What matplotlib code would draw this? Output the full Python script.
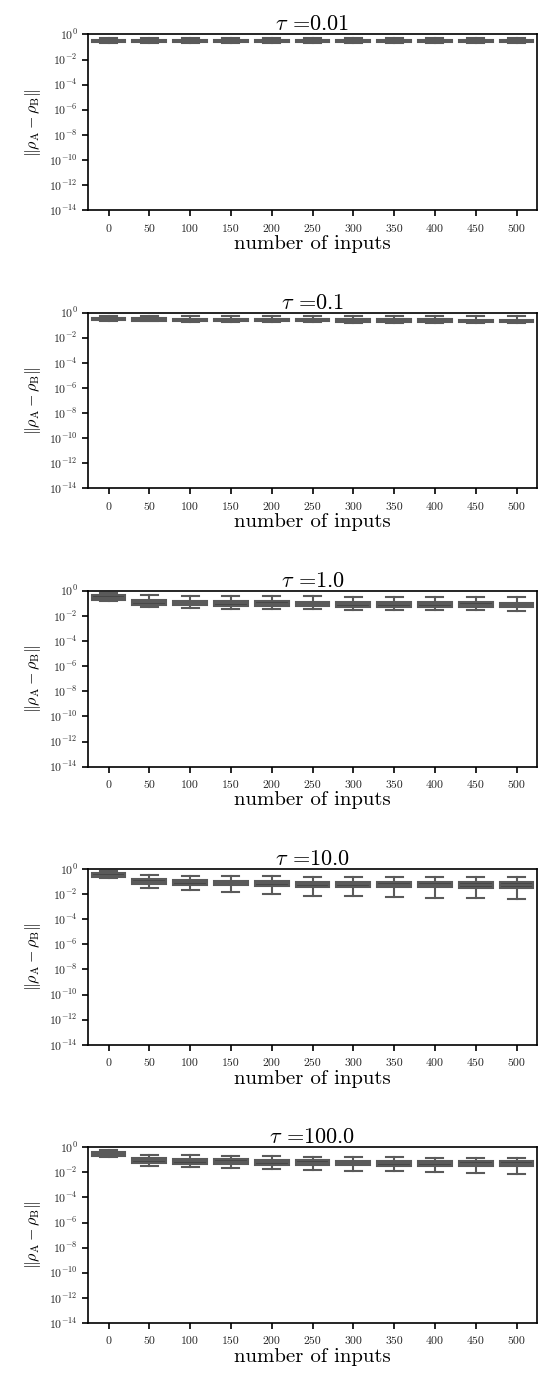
import numpy as np
import matplotlib
matplotlib.use('Agg')
import matplotlib.pyplot as plt

plt.rcParams['font.family'] = 'cmr10'
plt.rcParams['mathtext.fontset'] = 'cm'
plt.rcParams['axes.formatter.use_mathtext'] = True
plt.rcParams['axes.unicode_minus'] = False

taus = ['0.01', '0.1', '1.0', '10.0', '100.0']
inputs = [0, 50, 100, 150, 200, 250, 300, 350, 400, 450, 500]

# box statistics, one list per tau
med = [
    [0.28, 0.28, 0.28, 0.28, 0.28, 0.28, 0.28, 0.28, 0.28, 0.28, 0.28],
    [0.29, 0.28, 0.27, 0.26, 0.25, 0.25, 0.24, 0.23, 0.23, 0.22, 0.22],
    [0.29, 0.12, 0.11, 0.10, 0.095, 0.09, 0.088, 0.085, 0.083, 0.08, 0.077],
    [0.29, 0.098, 0.085, 0.078, 0.07, 0.065, 0.06, 0.057, 0.055, 0.054, 0.053],
    [0.30, 0.087, 0.075, 0.068, 0.062, 0.058, 0.055, 0.053, 0.051, 0.05, 0.048],
]
q1 = [
    [0.23, 0.23, 0.23, 0.23, 0.23, 0.23, 0.23, 0.23, 0.23, 0.23, 0.23],
    [0.24, 0.23, 0.22, 0.21, 0.20, 0.20, 0.19, 0.18, 0.18, 0.17, 0.17],
    [0.17, 0.077, 0.07, 0.065, 0.06, 0.058, 0.056, 0.054, 0.052, 0.05, 0.048],
    [0.22, 0.064, 0.055, 0.05, 0.044, 0.04, 0.037, 0.035, 0.034, 0.033, 0.033],
    [0.19, 0.056, 0.048, 0.044, 0.04, 0.038, 0.036, 0.034, 0.033, 0.032, 0.031],
]
q3 = [
    [0.33, 0.33, 0.33, 0.33, 0.33, 0.33, 0.33, 0.33, 0.33, 0.33, 0.33],
    [0.35, 0.34, 0.33, 0.32, 0.31, 0.31, 0.30, 0.29, 0.29, 0.28, 0.28],
    [0.45, 0.18, 0.165, 0.155, 0.145, 0.14, 0.135, 0.13, 0.125, 0.12, 0.115],
    [0.45, 0.15, 0.13, 0.12, 0.11, 0.10, 0.095, 0.092, 0.09, 0.089, 0.088],
    [0.40, 0.13, 0.115, 0.105, 0.096, 0.09, 0.085, 0.082, 0.079, 0.077, 0.075],
]
lo = [
    [0.20, 0.20, 0.20, 0.20, 0.20, 0.20, 0.20, 0.20, 0.20, 0.20, 0.20],
    [0.21, 0.20, 0.19, 0.18, 0.17, 0.17, 0.16, 0.15, 0.15, 0.14, 0.14],
    [0.15, 0.047, 0.042, 0.038, 0.035, 0.033, 0.031, 0.03, 0.029, 0.027, 0.026],
    [0.20, 0.033, 0.021, 0.014, 0.010, 0.007, 0.0065, 0.006, 0.005, 0.005, 0.0042],
    [0.17, 0.031, 0.025, 0.021, 0.017, 0.015, 0.013, 0.012, 0.01, 0.009, 0.0067],
]
hi = [
    [0.55, 0.55, 0.55, 0.55, 0.55, 0.55, 0.55, 0.55, 0.55, 0.55, 0.55],
    [0.58, 0.57, 0.56, 0.55, 0.54, 0.53, 0.52, 0.51, 0.50, 0.50, 0.49],
    [0.73, 0.45, 0.42, 0.40, 0.38, 0.36, 0.35, 0.34, 0.32, 0.31, 0.30],
    [0.75, 0.33, 0.30, 0.28, 0.26, 0.25, 0.24, 0.23, 0.23, 0.22, 0.22],
    [0.65, 0.25, 0.22, 0.20, 0.19, 0.18, 0.17, 0.16, 0.15, 0.145, 0.14],
]

box_face = '#474747'
line_col = '#5a5a5a'

fig, axes = plt.subplots(5, 1, figsize=(5.44, 13.76), dpi=100)
fig.subplots_adjust(left=0.162, right=0.987, top=0.975, bottom=0.0385, hspace=0.582)

for k, ax in enumerate(axes):
    stats = []
    for j in range(len(inputs)):
        stats.append({'med': med[k][j], 'q1': q1[k][j], 'q3': q3[k][j],
                      'whislo': lo[k][j], 'whishi': hi[k][j], 'fliers': []})
    ax.bxp(stats, positions=range(len(inputs)), widths=0.83, patch_artist=True,
           showfliers=False, capwidths=0.42,
           boxprops=dict(facecolor=box_face, edgecolor=line_col, linewidth=1.5),
           whiskerprops=dict(color=line_col, linewidth=1.5),
           capprops=dict(color=line_col, linewidth=1.5),
           medianprops=dict(color=line_col, linewidth=1.5))
    ax.set_yscale('log')
    ax.set_ylim(1e-14, 1e0)
    ax.set_yticks([10.0 ** e for e in range(-14, 1, 2)])
    ax.yaxis.set_minor_locator(matplotlib.ticker.NullLocator())
    ax.set_xlim(-0.5, len(inputs) - 0.5)
    ax.set_xticks(range(len(inputs)))
    ax.set_xticklabels([str(v) for v in inputs])
    ax.tick_params(axis='both', labelsize=8.5, direction='out', length=4, width=1.2,
                   labelcolor='#262626')
    ax.tick_params(axis='x', pad=6)
    for s in ax.spines.values():
        s.set_linewidth(1.2)
    ax.set_title('$\\tau$ =' + taus[k], fontsize=16, pad=2)
    ax.set_xlabel('number of inputs', fontsize=15, labelpad=1)
    ax.set_ylabel('$\\|\\rho_\\mathrm{A} - \\rho_\\mathrm{B}\\|$', fontsize=11.5)

fig.savefig('out.png', dpi=100)
